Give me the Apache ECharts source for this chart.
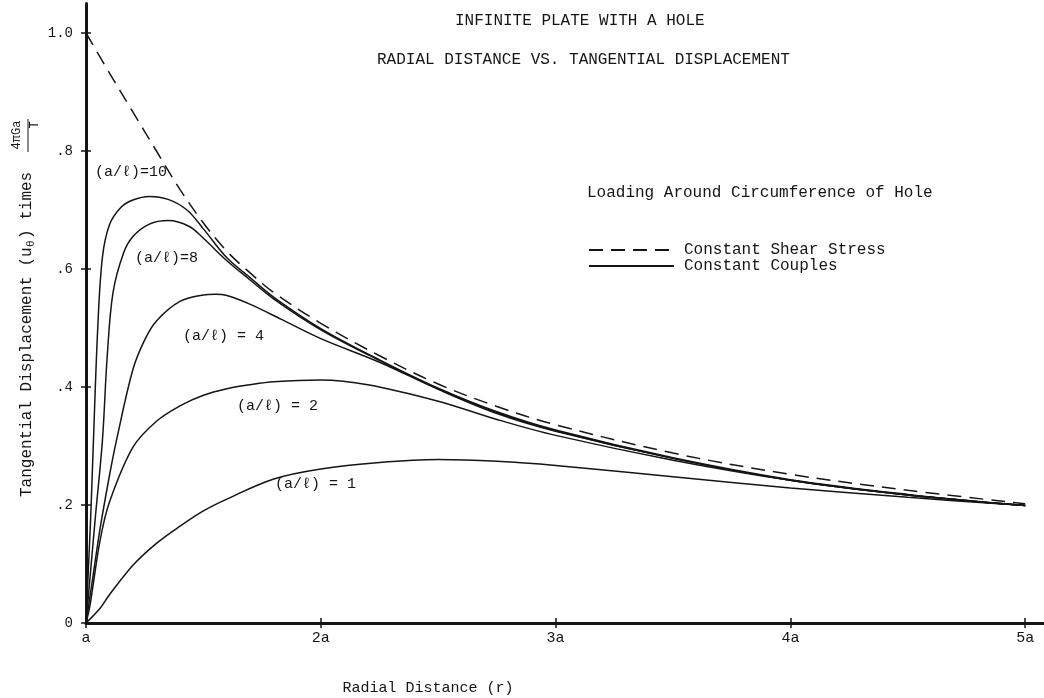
<!DOCTYPE html>
<html>
<head>
<meta charset="utf-8">
<script src="https://cdn.jsdelivr.net/npm/echarts@6/dist/echarts.min.js"></script>
<style>
html,body{margin:0;padding:0;background:#fff;}
#chart{width:1044px;height:698px;}
</style>
</head>
<body>
<div id="chart"></div>
<script>
// ---- data ----
const xTickValues = [1, 2, 3, 4, 5];
const xTickLabels = ['a', '2a', '3a', '4a', '5a'];
const yTickValues = [0, 0.2, 0.4, 0.6, 0.8, 1.0];
const yTickLabels = ['0', '.2', '.4', '.6', '.8', '1.0'];

// Constant shear stress (dashed)
const rDash = [1, 1.1, 1.2, 1.3, 1.4, 1.5, 1.6, 1.7, 1.8, 2.0, 2.25, 2.5, 2.75, 3.0, 3.5, 4.0, 4.5, 5.0];
const uDash = [1.0, 0.932, 0.866, 0.80, 0.735, 0.678, 0.630, 0.593, 0.560, 0.508, 0.453, 0.405, 0.367, 0.336, 0.288, 0.252, 0.225, 0.202];

// Constant couples (solid), a/l = 10, 8, 4, 2, 1
const r10 = [1, 1.01, 1.02, 1.03, 1.05, 1.07, 1.1, 1.15, 1.2, 1.27, 1.35, 1.43, 1.5, 1.6, 1.7, 1.8, 2.0, 2.25, 2.5, 2.75, 3.0, 3.5, 4.0, 4.5, 5.0];
const u10 = [0, 0.09, 0.18, 0.29, 0.5, 0.62, 0.675, 0.705, 0.717, 0.723, 0.718, 0.70, 0.668, 0.619, 0.585, 0.552, 0.499, 0.446, 0.398, 0.358, 0.327, 0.280, 0.243, 0.218, 0.199];
const r8 = [1, 1.02, 1.04, 1.07, 1.09, 1.115, 1.16, 1.2, 1.27, 1.35, 1.44, 1.5, 1.6, 1.7, 1.8, 2.0, 2.25, 2.5, 2.75, 3.0, 3.5, 4.0, 4.5, 5.0];
const u8 = [0, 0.09, 0.18, 0.31, 0.45, 0.56, 0.627, 0.655, 0.676, 0.682, 0.672, 0.652, 0.614, 0.581, 0.549, 0.497, 0.445, 0.397, 0.357, 0.326, 0.279, 0.242, 0.217, 0.199];
const r4 = [1, 1.03, 1.06, 1.1, 1.13, 1.2, 1.25, 1.3, 1.4, 1.5, 1.55, 1.6, 1.7, 1.83, 2.0, 2.25, 2.5, 2.75, 3.0, 3.5, 4.0, 4.5, 5.0];
const u4 = [0, 0.08, 0.16, 0.25, 0.31, 0.43, 0.48, 0.512, 0.545, 0.556, 0.557, 0.555, 0.54, 0.515, 0.482, 0.442, 0.396, 0.355, 0.325, 0.279, 0.242, 0.217, 0.199];
const r2 = [1, 1.017, 1.06, 1.1, 1.2, 1.3, 1.4, 1.5, 1.6, 1.7, 1.8, 2.0, 2.2, 2.5, 2.75, 3.0, 3.5, 4.0, 4.5, 5.0];
const u2 = [0, 0.03, 0.14, 0.205, 0.298, 0.342, 0.368, 0.386, 0.397, 0.404, 0.409, 0.412, 0.404, 0.376, 0.345, 0.318, 0.276, 0.242, 0.217, 0.199];
const r1 = [1, 1.06, 1.1, 1.2, 1.3, 1.4, 1.5, 1.6, 1.8, 2.0, 2.25, 2.5, 2.75, 3.0, 3.5, 4.0, 4.5, 5.0];
const u1 = [0, 0.025, 0.048, 0.098, 0.135, 0.164, 0.19, 0.21, 0.244, 0.261, 0.272, 0.277, 0.274, 0.267, 0.248, 0.229, 0.213, 0.199];

const seriesNames = ['Constant Shear Stress', 'Constant Couples'];
const curveLabels = ['(a/ℓ)=10', '(a/ℓ)=8', '(a/ℓ) = 4', '(a/ℓ) = 2', '(a/ℓ) = 1'];

// ---- build ----
const pair = (xs, ys) => xs.map((x, i) => [x, ys[i]]);
const FONT = '"Liberation Mono", "DejaVu Sans Mono", monospace';
const INK = '#151515';

const solidCurves = [pair(r10, u10), pair(r8, u8), pair(r4, u4), pair(r2, u2), pair(r1, u1)];

const lineSeries = [{
  name: seriesNames[0], type: 'line', data: pair(rDash, uDash), symbol: 'none',
  smooth: 0.35,
  lineStyle: { color: INK, width: 1.5, type: [14, 8] }, itemStyle: { color: INK },
  z: 3
}].concat(solidCurves.map(d => ({
  name: seriesNames[1], type: 'line', data: d, symbol: 'none',
  smooth: 0.35,
  lineStyle: { color: INK, width: 1.5, type: 'solid' }, itemStyle: { color: INK },
  z: 2
})));

const labelFor = (vals, labs) => v => {
  const i = vals.findIndex(t => Math.abs(t - v) < 1e-6);
  return i >= 0 ? labs[i] : '';
};

const labelPos = [[95, 172], [135, 258], [183, 336], [237, 406], [275, 484]];

const chart = echarts.init(document.getElementById('chart'), null, { renderer: 'canvas' });
chart.setOption({
  backgroundColor: '#fff',
  animation: false,
  textStyle: { fontFamily: FONT, color: INK },
  title: [
    { text: 'INFINITE PLATE WITH A HOLE', left: 450, top: 8,
      textStyle: { fontFamily: FONT, fontWeight: 'normal', fontSize: 16, color: INK } },
    { text: 'RADIAL DISTANCE VS. TANGENTIAL DISPLACEMENT', left: 372, top: 47,
      textStyle: { fontFamily: FONT, fontWeight: 'normal', fontSize: 16, color: INK } }
  ],
  legend: {
    data: seriesNames, orient: 'vertical', left: 588, top: 242, padding: 0,
    itemWidth: 85, itemHeight: 14, itemGap: 0,
    selectedMode: false,
    itemStyle: { opacity: 0 },
    textStyle: { fontFamily: FONT, fontSize: 16, lineHeight: 16, color: INK, padding: [0, 0, 0, 5] }
  },
  grid: { left: 86, right: 0, top: 3.5, bottom: 75, containLabel: false },
  xAxis: [{
    type: 'value', min: 1, max: 5.08,
    axisLine: { show: true, lineStyle: { color: INK, width: 3 } },
    axisTick: { show: true, length: 5, customValues: xTickValues, lineStyle: { color: INK, width: 1.5 } },
    axisLabel: { show: true, customValues: xTickValues, formatter: labelFor(xTickValues, xTickLabels),
      fontFamily: FONT, fontSize: 15, color: INK, margin: 8 },
    splitLine: { show: false }
  }, {
    type: 'value', min: 1, max: 5.08, position: 'bottom',
    axisLine: { show: false },
    axisTick: { show: true, inside: true, length: 5, customValues: xTickValues, lineStyle: { color: INK, width: 1.5 } },
    axisLabel: { show: false }, splitLine: { show: false }
  }],
  yAxis: [{
    type: 'value', min: 0, max: 1.05,
    axisLine: { show: true, lineStyle: { color: INK, width: 3 } },
    axisTick: { show: true, length: 5, customValues: yTickValues, lineStyle: { color: INK, width: 1.5 } },
    axisLabel: { show: true, customValues: yTickValues, formatter: labelFor(yTickValues, yTickLabels),
      fontFamily: FONT, fontSize: 14, color: INK, margin: 13 },
    splitLine: { show: false }
  }, {
    type: 'value', min: 0, max: 1.05, position: 'left',
    axisLine: { show: false },
    axisTick: { show: true, inside: true, length: 5, customValues: yTickValues, lineStyle: { color: INK, width: 1.5 } },
    axisLabel: { show: false }, splitLine: { show: false }
  }],
  series: lineSeries,
  graphic: [
    { type: 'text', left: 587, top: 185,
      style: { text: 'Loading Around Circumference of Hole', font: '16px ' + FONT, fill: INK } },
    { type: 'text', x: 428, y: 688,
      style: { text: 'Radial Distance (r)', font: '15px ' + FONT, fill: INK, align: 'center', verticalAlign: 'middle' } },
    {
      type: 'group', x: 27, y: 497, rotation: Math.PI / 2,
      children: [
        { type: 'text', x: 0, y: 0,
          style: { text: 'Tangential Displacement (u', font: '16px ' + FONT, fill: INK, align: 'left', verticalAlign: 'middle' } },
        { type: 'text', x: 250, y: 4,
          style: { text: 'θ', font: '11px ' + FONT, fill: INK, align: 'left', verticalAlign: 'middle' } },
        { type: 'text', x: 258, y: 0,
          style: { text: ') times', font: '16px ' + FONT, fill: INK, align: 'left', verticalAlign: 'middle' } },
        { type: 'text', x: 362, y: -10,
          style: { text: '4πGa', font: '12px ' + FONT, fill: INK, align: 'center', verticalAlign: 'middle' } },
        { type: 'line', shape: { x1: 345, y1: 1, x2: 378, y2: 1 }, style: { stroke: INK, lineWidth: 1 } },
        { type: 'text', x: 372, y: 8,
          style: { text: 'T', font: '12px ' + FONT, fill: INK, align: 'center', verticalAlign: 'middle' } }
      ]
    }
  ].concat(curveLabels.map((t, i) => ({
    type: 'text', x: labelPos[i][0], y: labelPos[i][1], z: 10,
    style: { text: t, font: '15px ' + FONT, fill: INK, align: 'left', verticalAlign: 'middle' }
  })))
});
</script>
</body>
</html>
